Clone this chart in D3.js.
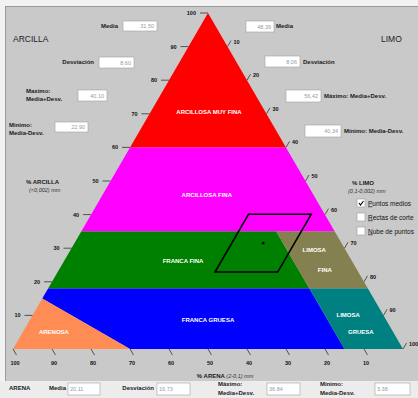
<!DOCTYPE html>
<html>
<head>
<meta charset="utf-8">
<script src="https://cdn.jsdelivr.net/npm/d3@7"></script>
<style>
  body { margin: 0; background: #fff; }
  svg { display: block; font-family: "Liberation Sans", Arial, sans-serif; }
  .lbl { font-size: 6px; font-weight: bold; fill: #1a1a1a; }
  .zone { font-size: 6px; font-weight: bold; fill: #fff; text-anchor: middle; }
  .tick { font-size: 5.5px; font-weight: bold; fill: #111; }
  .val { font-size: 5.5px; fill: #9a9a9a; }
</style>
</head>
<body>
<div id="chart"></div>
<script>
// texture classes, vertices as [silt, clay] percentages (sand = 100 - silt - clay)
const zoneNames = ["ARCILLOSA MUY FINA", "ARCILLOSA FINA", "FRANCA FINA", "LIMOSA FINA",
  "FRANCA GRUESA", "ARENOSA", "LIMOSA GRUESA"];
const zoneColors = ["#ff0000", "#ff00ff", "#008000", "#84804f", "#0000ff", "#ff8c55", "#008080"];
const zonePolys = [
  [[0, 60], [40, 60], [0, 100]],
  [[0, 35], [65, 35], [40, 60], [0, 60]],
  [[0, 18], [67, 18], [50, 35], [0, 35]],
  [[67, 18], [82, 18], [65, 35], [50, 35]],
  [[0, 15], [0, 18], [67, 18], [85, 0], [30, 0]],
  [[0, 0], [0, 15], [30, 0]],
  [[85, 0], [100, 0], [82, 18], [67, 18]],
];
// label lines for each class: [text, silt, clay]
const zoneLabels = [
  ["ARCILLOSA MUY FINA", 15, 70.5],
  ["ARCILLOSA FINA", 26.8, 45.8],
  ["FRANCA FINA", 30.5, 26.2],
  ["LIMOSA", 62.5, 29.5],
  ["FINA", 68.2, 23.5],
  ["FRANCA GRUESA", 45.7, 8.6],
  ["ARENOSA", 8, 5],
  ["LIMOSA", 80.9, 10.1],
  ["GRUESA", 86.7, 5],
];

const clayTicks = [100, 90, 80, 70, 60, 50, 40, 30, 20, 10];
const siltTicks = [10, 20, 30, 40, 50, 60, 70, 80, 90, 100];
const sandTicks = [100, 90, 80, 70, 60, 50, 40, 30, 20, 10];

const statLabels = ["Media", "Desviación", "Máximo: Media+Desv.", "Mínimo: Media-Desv."];
const arcillaStats = [31.50, 8.60, 40.10, 22.90];
const limoStats = [48.39, 8.06, 56.42, 40.34];
const arenaStats = [20.11, 16.73, 36.84, 3.38];

const options = ["Puntos medios", "Rectas de corte", "Nube de puntos"];
const optionChecked = [true, false, false];

const W = 418, H = 398;
const svg = d3.select("#chart").append("svg").attr("width", W).attr("height", H);

const fmt = d3.formatLocale({ decimal: ",", thousands: ".", grouping: [3], currency: ["", ""] }).format(".2f");
const fmtDot = d3.format(".2f");

// ternary scales
const xBase = d3.scaleLinear().domain([0, 100]).range([13, 403]);
const yClay = d3.scaleLinear().domain([0, 100]).range([349, 13]);
const px = (silt, clay) => [xBase(silt + clay / 2), yClay(clay)];

// background panels
svg.append("rect").attr("width", W).attr("height", H).attr("fill", "#f2f2f2");
svg.append("rect").attr("x", 5).attr("y", 6).attr("width", W - 5).attr("height", 375).attr("fill", "#c9c9c9");
svg.append("line").attr("x1", 5).attr("x2", W).attr("y1", 6.5).attr("y2", 6.5).attr("stroke", "#9a9a9a");
svg.append("line").attr("x1", 5.5).attr("x2", 5.5).attr("y1", 6).attr("y2", 381).attr("stroke", "#9a9a9a");
svg.append("rect").attr("y", 381).attr("width", W).attr("height", H - 381).attr("fill", "#ececec");

// zones
const line = d3.line();
svg.append("g").selectAll("path").data(zonePolys).join("path")
  .attr("d", (d) => line(d.map((p) => px(p[0], p[1]))) + "Z")
  .attr("fill", (d, i) => zoneColors[i]);

svg.append("g").selectAll("text").data(zoneLabels).join("text")
  .attr("class", "zone")
  .attr("x", (d) => px(d[1], d[2])[0])
  .attr("y", (d) => px(d[1], d[2])[1] + 2)
  .text((d) => d[0]);

// mean +/- deviation parallelogram (clay and silt)
const cMin = arcillaStats[3], cMax = arcillaStats[2];
const sMin = limoStats[3], sMax = limoStats[2];
svg.append("path")
  .attr("d", line([px(sMin, cMin), px(sMax, cMin), px(sMax, cMax), px(sMin, cMax)]) + "Z")
  .attr("fill", "none").attr("stroke", "#000").attr("stroke-width", 1.6);
svg.append("circle")
  .attr("cx", px(limoStats[0], arcillaStats[0])[0])
  .attr("cy", px(limoStats[0], arcillaStats[0])[1])
  .attr("r", 1.3).attr("fill", "#000");

// axis ticks
const axes = svg.append("g").attr("stroke", "#333").attr("stroke-width", 0.8);
clayTicks.forEach((c) => {
  const [x, y] = px(0, c);
  axes.append("line").attr("x1", x - 8).attr("x2", x).attr("y1", y).attr("y2", y);
  svg.append("text").attr("class", "tick").attr("x", x - 12).attr("y", y + 2)
    .attr("text-anchor", "end").text(c);
});
siltTicks.forEach((s) => {
  const [x, y] = px(s, 100 - s);
  axes.append("line").attr("x1", x).attr("y1", y).attr("x2", x + 3.5).attr("y2", y - 6);
  svg.append("text").attr("class", "tick").attr("x", x + 6).attr("y", y - 3).text(s);
});
sandTicks.forEach((a) => {
  const [x, y] = px(100 - a, 0);
  axes.append("line").attr("x1", x).attr("y1", y).attr("x2", x + 3.5).attr("y2", y + 6);
  svg.append("text").attr("class", "tick").attr("x", x + 2).attr("y", y + 16)
    .attr("text-anchor", "middle").text(a);
});

// text boxes
function box(x, y, w, h, v, f, anchor) {
  svg.append("rect").attr("x", x).attr("y", y).attr("width", w).attr("height", h)
    .attr("fill", "#fff").attr("stroke", "#a0a0a0").attr("stroke-width", 0.6);
  svg.append("text").attr("class", "val")
    .attr("x", anchor === "end" ? x + w - 3 : x + 2).attr("y", y + h / 2 + 2)
    .attr("text-anchor", anchor).text(f(v));
}
function label(x, y, t, anchor) {
  return svg.append("text").attr("class", "lbl").attr("x", x).attr("y", y)
    .attr("text-anchor", anchor || "start").text(t);
}
function title(x, y, bold, italic) {
  const t = svg.append("text").attr("x", x).attr("y", y).attr("font-size", 6).attr("fill", "#1a1a1a");
  t.append("tspan").attr("font-weight", "bold").text(bold + " ");
  t.append("tspan").attr("font-style", "italic").attr("font-size", 5.5).attr("fill", "#333").text(italic);
  return t;
}

// ARCILLA panel (left)
svg.append("text").attr("x", 13).attr("y", 42).attr("font-size", 8.5).attr("fill", "#222").text("ARCILLA");
label(118, 28, statLabels[0], "end");
box(123, 21, 34, 10, arcillaStats[0], fmt, "end");
label(94, 64, statLabels[1], "end");
box(99, 57, 35, 11, arcillaStats[1], fmt, "end");
label(26, 93, "Maximo:");
label(26, 101, "Media+Desv.");
box(78, 90, 29, 11, arcillaStats[2], fmt, "end");
label(9, 127, "Minimo:");
label(9, 135, "Media-Desv.");
box(55, 122, 33, 10, arcillaStats[3], fmt, "end");

// LIMO panel (right)
svg.append("text").attr("x", 381).attr("y", 42).attr("font-size", 8.5).attr("fill", "#222").text("LIMO");
box(246, 21, 28, 11, limoStats[0], fmt, "end");
label(276, 28, statLabels[0]);
box(265, 56, 35, 11, limoStats[1], fmt, "end");
label(303, 64, statLabels[1]);
box(286, 90, 35, 12, limoStats[2], fmt, "end");
label(324, 98, statLabels[2]);
box(305, 125, 36, 12, limoStats[3], fmt, "end");
label(344, 133, statLabels[3]);

// axis titles
label(26, 184, "% ARCILLA");
svg.append("text").attr("x", 29).attr("y", 192).attr("font-size", 5.5).attr("font-style", "italic")
  .attr("fill", "#333").text("(<0,002) mm");
label(352, 185, "% LIMO");
svg.append("text").attr("x", 348).attr("y", 193).attr("font-size", 5.5).attr("font-style", "italic")
  .attr("fill", "#333").text("(0,1-0,002) mm");
const arenaTitle = title(0, 378, "% ARENA", "(2-0,1) mm");
const tw = arenaTitle.node().getComputedTextLength();
arenaTitle.attr("x", 225 - tw / 2);

// check boxes
options.forEach((o, i) => {
  const y = 199 + i * 14;
  svg.append("rect").attr("x", 357).attr("y", y).attr("width", 8).attr("height", 8)
    .attr("fill", "#fff").attr("stroke", "#999").attr("stroke-width", 0.6);
  if (optionChecked[i]) {
    svg.append("path").attr("d", `M${359},${y + 4} l1.5,2 l3,-4`)
      .attr("fill", "none").attr("stroke", "#000").attr("stroke-width", 1.1);
  }
  const t = svg.append("text").attr("x", 368).attr("y", y + 6.5).attr("font-size", 6.5).attr("fill", "#111");
  t.append("tspan").attr("text-decoration", "underline").text(o.charAt(0));
  t.append("tspan").text(o.slice(1));
});

// ARENA row (bottom)
label(9, 390, "ARENA");
label(66, 390, statLabels[0], "end");
box(68, 383, 32, 12, arenaStats[0], fmtDot, "start");
label(154, 390, statLabels[1], "end");
box(157, 383, 33, 12, arenaStats[1], fmtDot, "start");
label(218, 386, "Máximo:");
label(218, 395, "Media+Desv.");
box(267, 383, 33, 12, arenaStats[2], fmtDot, "start");
label(320, 386, "Mínimo:");
label(320, 395, "Media-Desv.");
box(375, 383, 35, 12, arenaStats[3], fmtDot, "start");
</script>
</body>
</html>
